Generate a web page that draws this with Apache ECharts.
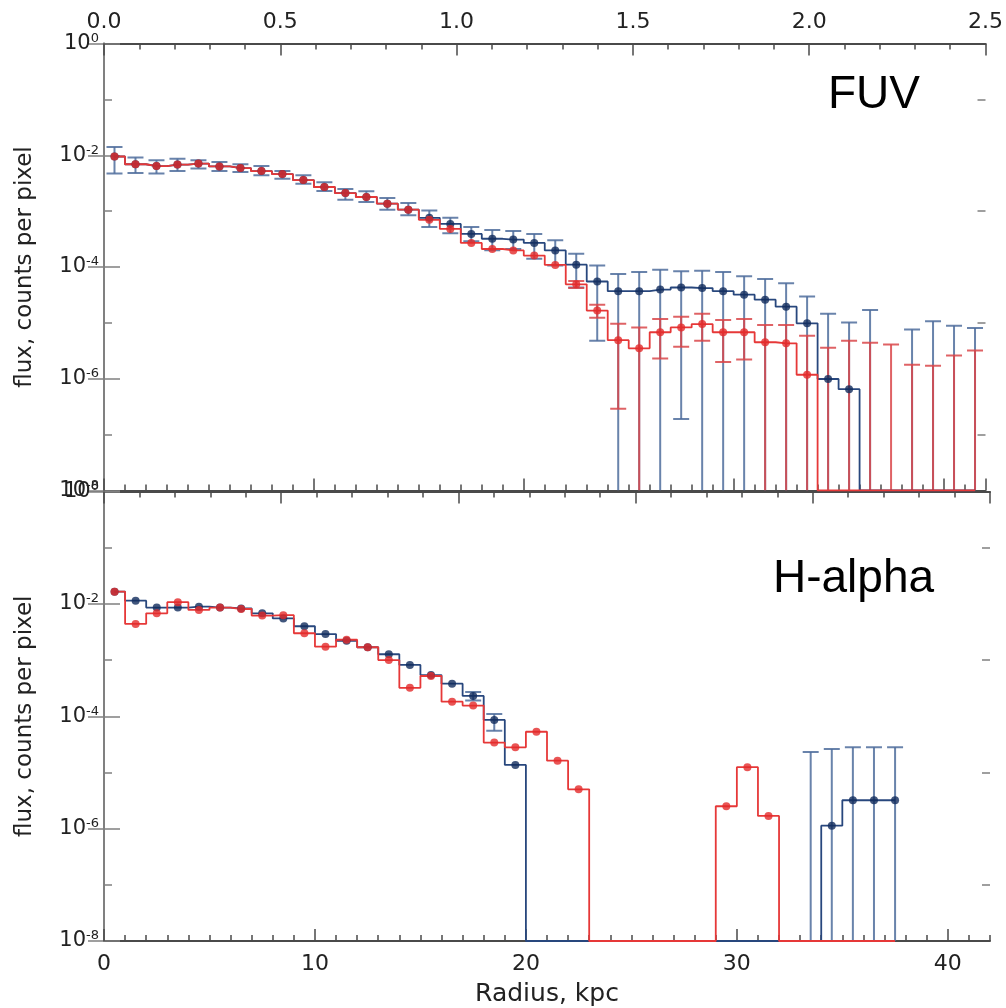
<!DOCTYPE html>
<html>
<head>
<meta charset="utf-8">
<script src="https://cdn.jsdelivr.net/npm/echarts@6/dist/echarts.min.js"></script>
<style>html,body{margin:0;padding:0;background:#fff}#c{width:1006px;height:1008px}</style>
</head>
<body>
<div id="c"></div>
<script>
// ---------------- data ----------------
const radiusKpc = [0.5,1.5,2.5,3.5,4.5,5.5,6.5,7.5,8.5,9.5,10.5,11.5,12.5,13.5,14.5,15.5,16.5,17.5,18.5,19.5,
  20.5,21.5,22.5,23.5,24.5,25.5,26.5,27.5,28.5,29.5,30.5,31.5,32.5,33.5,34.5,35.5,36.5,37.5,38.5,39.5,40.5,41.5];

// FUV panel (0 = no detected flux)
const fuvBlue = [9.5e-3,6.9e-3,6.4e-3,6.8e-3,7.1e-3,6.3e-3,5.9e-3,5.2e-3,4.6e-3,3.6e-3,
  2.7e-3,2.1e-3,1.79e-3,1.36e-3,1.06e-3,7.6e-4,5.9e-4,3.9e-4,3.2e-4,3.1e-4,
  2.7e-4,1.98e-4,1.1e-4,5.5e-5,3.7e-5,3.7e-5,3.95e-5,4.3e-5,4.2e-5,3.7e-5,
  3.2e-5,2.6e-5,1.95e-5,9.8e-6,9.9e-7,6.5e-7,0,0,0,0,0,0];
const fuvRed = [9.5e-3,6.9e-3,6.4e-3,6.8e-3,7.1e-3,6.3e-3,5.9e-3,5.2e-3,4.6e-3,3.6e-3,
  2.7e-3,2.1e-3,1.79e-3,1.36e-3,1.06e-3,7.0e-4,4.8e-4,2.7e-4,2.1e-4,1.98e-4,
  1.6e-4,1.09e-4,4.9e-5,1.66e-5,4.9e-6,3.5e-6,6.8e-6,8.3e-6,9.5e-6,6.8e-6,
  6.8e-6,4.5e-6,4.3e-6,1.18e-6,0,0,0,0,0,0,0,0];
const fuvBlueHi = [1.41e-2,9.1e-3,8.1e-3,8.7e-3,8.1e-3,7.6e-3,6.9e-3,6.4e-3,5.2e-3,4.4e-3,
  3.3e-3,2.5e-3,2.26e-3,1.71e-3,1.4e-3,1.03e-3,7.6e-4,5.2e-4,4.6e-4,4.4e-4,
  3.9e-4,3.0e-4,1.72e-4,1.06e-4,7.5e-5,8.1e-5,8.9e-5,8.4e-5,8.6e-5,8.1e-5,
  6.8e-5,6.1e-5,5.1e-5,2.96e-5,1.45e-5,1.02e-5,1.7e-5,null,7.6e-6,1.07e-5,8.9e-6,8.1e-6];
const fuvBlueLo = [4.7e-3,4.8e-3,4.7e-3,5.2e-3,5.8e-3,5.2e-3,5.0e-3,4.4e-3,3.8e-3,3.1e-3,
  2.3e-3,1.6e-3,1.45e-3,1.06e-3,8.4e-4,5.2e-4,4.0e-4,2.9e-4,2.0e-4,2.1e-4,
  1.4e-4,1.06e-4,4.3e-5,4.8e-6,0,0,0,1.9e-7,0,0,
  0,0,0,0,0,0,0,null,0,0,0,0];
const fuvRedHi = [null,null,null,null,null,null,null,null,null,null,
  null,null,null,null,null,null,null,null,null,null,
  null,null,5.6e-5,2.1e-5,9.6e-6,8.3e-6,1.17e-5,1.29e-5,1.45e-5,1.13e-5,
  1.17e-5,9.2e-6,9.2e-6,5.9e-6,3.6e-6,4.8e-6,4.4e-6,4.1e-6,1.78e-6,1.7e-6,2.6e-6,3.2e-6];
const fuvRedLo = [null,null,null,null,null,null,null,null,null,null,
  null,null,null,null,null,null,null,null,null,null,
  null,null,4.2e-5,1.23e-5,2.9e-7,0,2.3e-6,3.75e-6,4.8e-6,2.0e-6,
  2.2e-6,0,0,0,0,0,0,0,0,0,0,0];

// H-alpha panel (bins 0.5 .. 37.5)
const haBlue = [1.65e-2,1.14e-2,8.6e-3,8.6e-3,8.9e-3,8.6e-3,8.3e-3,6.8e-3,5.5e-3,4.0e-3,
  2.9e-3,2.2e-3,1.69e-3,1.27e-3,8.2e-4,5.4e-4,3.8e-4,2.3e-4,8.6e-5,1.36e-5,
  0,0,0,0,0,0,0,0,0,0,0,0,0,0,
  1.13e-6,3.2e-6,3.2e-6,3.2e-6];
const haRed = [1.65e-2,4.4e-3,6.8e-3,1.07e-2,7.8e-3,8.6e-3,8.1e-3,6.2e-3,6.3e-3,3.0e-3,
  1.73e-3,2.3e-3,1.69e-3,1.0e-3,3.2e-4,5.2e-4,1.82e-4,1.55e-4,3.4e-5,2.8e-5,
  5.3e-5,1.62e-5,5.0e-6,0,0,0,0,0,0,
  2.5e-6,1.24e-5,1.68e-6,0,0,0,0,0,0];
const haBlueHi = [null,null,null,null,null,null,null,null,null,null,
  null,null,null,null,null,null,null,2.7e-4,1.1e-4,null,
  null,null,null,null,null,null,null,null,null,null,null,null,null,
  2.3e-5,2.6e-5,2.8e-5,2.8e-5,2.8e-5];
const haBlueLo = [null,null,null,null,null,null,null,null,null,null,
  null,null,null,null,null,null,null,1.9e-4,5.5e-5,null,
  null,null,null,null,null,null,null,null,null,null,null,null,null,
  0,0,0,0,0];

const yMajorTicks = [1e-8,1e-6,1e-4,1e-2,1];
const yMinorTicks = [1e-7,1e-5,1e-3,1e-1];
const panelLabels = ['FUV','H-alpha'];

// ---------------- chart ----------------
const Y_MIN = 1e-8, Y_MAX = 1, X_MAX = 42, TOP_MAX = 2.5;
const BLUE_LINE = '#28477d', BLUE_PT = '#122c5c', BLUE_ERR = '#4f6d9c';
const RED_LINE = '#e63838', RED_PT = '#e42a2a', RED_ERR = '#d9474a';
const FRAME = '#4a4a4a', FRAME_Y = '#808080';
const NUM_FONT = 'DejaVu Sans';
const TITLE_FONT = 'Liberation Sans';

const chart = echarts.init(document.getElementById('c'), null, {renderer: 'canvas'});

function supLabel(v) {
  const n = Math.round(Math.log10(v));
  return '{b|10}{s|' + n + '}';
}

function yAxes(g) {
  const base = {gridIndex: g, type: 'log', logBase: 10, min: Y_MIN, max: Y_MAX, splitLine: {show: false}};
  return [
    Object.assign({}, base, {
      position: 'left',
      name: 'flux, counts per pixel', nameLocation: 'middle', nameGap: 67,
      nameTextStyle: {fontFamily: 'DejaVu Sans', fontSize: 23, color: '#222'},
      axisLine: {show: true, lineStyle: {color: FRAME_Y, width: 2}},
      axisTick: {show: true, inside: true, length: 16, customValues: yMajorTicks, lineStyle: {color: FRAME_Y, width: 1.5}},
      axisLabel: {show: true, customValues: yMajorTicks, margin: 5, formatter: supLabel,
        rich: {b: {fontFamily: NUM_FONT, fontSize: 21, color: '#222'},
               s: {fontFamily: NUM_FONT, fontSize: 13, color: '#222', verticalAlign: 'top', padding: [0, 0, 10, 0]}}}
    }),
    Object.assign({}, base, {
      position: 'left', axisLine: {show: false},
      axisTick: {show: true, inside: true, length: 8, customValues: yMinorTicks, lineStyle: {color: FRAME_Y, width: 1.5}},
      axisLabel: {show: false}
    }),
    Object.assign({}, base, {
      position: 'right',
      axisLine: {show: true, lineStyle: {color: FRAME_Y, width: 2}},
      axisTick: {show: true, inside: true, length: 16, customValues: yMajorTicks, lineStyle: {color: FRAME_Y, width: 1.5}},
      axisLabel: {show: false}
    }),
    Object.assign({}, base, {
      position: 'right', axisLine: {show: false},
      axisTick: {show: true, inside: true, length: 8, customValues: yMinorTicks, lineStyle: {color: FRAME_Y, width: 1.5}},
      axisLabel: {show: false}
    })
  ];
}

function xAxes(g, labelled) {
  const kpcMajor = {
    gridIndex: g, type: 'value', min: 0, max: X_MAX, interval: 10, position: 'bottom',
    splitLine: {show: false},
    axisLine: {show: true, onZero: false, lineStyle: {color: FRAME, width: 2}},
    axisTick: {show: true, inside: true, length: 12, lineStyle: {color: FRAME, width: 1.5}},
    axisLabel: {show: labelled, showMaxLabel: false, margin: 12, fontFamily: NUM_FONT, fontSize: 22, color: '#222'}
  };
  if (labelled) {
    kpcMajor.name = 'Radius, kpc';
    kpcMajor.nameLocation = 'middle';
    kpcMajor.nameGap = 41;
    kpcMajor.nameTextStyle = {fontFamily: 'DejaVu Sans', fontSize: 25, color: '#222'};
  }
  const kpcMinor = {
    gridIndex: g, type: 'value', min: 0, max: X_MAX, interval: 1, position: 'bottom',
    splitLine: {show: false}, axisLine: {show: false, onZero: false},
    axisTick: {show: true, inside: true, length: 6, lineStyle: {color: FRAME, width: 1.5}},
    axisLabel: {show: false}
  };
  const topAx = {
    gridIndex: g, type: 'value', min: 0, max: TOP_MAX, interval: 0.5, position: 'top',
    splitLine: {show: false},
    axisLine: {show: true, onZero: false, lineStyle: {color: FRAME, width: 2}},
    axisTick: {show: true, inside: true, length: 12, lineStyle: {color: FRAME, width: 1.5}},
    minorTick: {show: true, splitNumber: 5, length: 6, lineStyle: {color: FRAME, width: 1.5}},
    axisLabel: {show: g === 0, margin: 10, fontFamily: NUM_FONT, fontSize: 22, color: '#222',
      formatter: function (v) { return v.toFixed(1); }}
  };
  return [kpcMajor, kpcMinor, topAx];
}

function stepSeries(xi, yi, vals, color, z) {
  return {type: 'line', xAxisIndex: xi, yAxisIndex: yi, step: 'middle', symbol: 'none', showSymbol: false,
    silent: true, z: z, clip: true,
    lineStyle: {color: color, width: 1.8},
    data: vals.map(function (v, i) { return [radiusKpc[i], v > 0 ? v : Y_MIN]; })};
}
function pointSeries(xi, yi, vals, color, z) {
  const d = [];
  vals.forEach(function (v, i) { if (v > 0) d.push([radiusKpc[i], v]); });
  return {type: 'scatter', xAxisIndex: xi, yAxisIndex: yi, symbol: 'circle', symbolSize: 8, silent: true, z: z,
    itemStyle: {color: color}, data: d};
}
function errSeries(xi, yi, hi, lo, color, z) {
  const d = [];
  hi.forEach(function (h, i) {
    if (h == null) return;
    const l = lo[i];
    d.push([radiusKpc[i], h, l > 0 ? l : Y_MIN, l > 0 ? 1 : 0]);
  });
  return {type: 'custom', xAxisIndex: xi, yAxisIndex: yi, silent: true, z: z, clip: true,
    encode: {x: 0, y: 1},
    renderItem: function (params, api) {
      const x = api.value(0);
      const pH = api.coord([x, api.value(1)]);
      const pL = api.coord([x, api.value(2)]);
      const hw = 8;
      const st = {stroke: color, lineWidth: 2, opacity: 0.85};
      const ch = [
        {type: 'line', shape: {x1: pH[0], y1: pH[1], x2: pL[0], y2: pL[1]}, style: st},
        {type: 'line', shape: {x1: pH[0] - hw, y1: pH[1], x2: pH[0] + hw, y2: pH[1]}, style: st}
      ];
      if (api.value(3) === 1) {
        ch.push({type: 'line', shape: {x1: pL[0] - hw, y1: pL[1], x2: pL[0] + hw, y2: pL[1]}, style: st});
      }
      return {type: 'group', children: ch};
    },
    data: d};
}

const xs = xAxes(0, false).concat(xAxes(1, true));   // 0..2 top grid, 3..5 bottom grid
const ys = yAxes(0).concat(yAxes(1));                // 0..3 top grid, 4..7 bottom grid

const option = {
  animation: false,
  backgroundColor: '#fff',
  textStyle: {fontFamily: NUM_FONT},
  grid: [
    {left: 104, right: 16, top: 43.5, height: 447, containLabel: false},
    {left: 104, right: 16, top: 491.5, height: 449.5, containLabel: false}
  ],
  xAxis: xs,
  yAxis: ys,
  series: [
    errSeries(0, 0, fuvBlueHi, fuvBlueLo, BLUE_ERR, 2),
    errSeries(0, 0, fuvRedHi, fuvRedLo, RED_ERR, 3),
    stepSeries(0, 0, fuvBlue, BLUE_LINE, 4),
    stepSeries(0, 0, fuvRed, RED_LINE, 5),
    pointSeries(0, 0, fuvBlue, BLUE_PT, 6),
    pointSeries(0, 0, fuvRed, RED_PT, 7),

    errSeries(3, 4, haBlueHi, haBlueLo, BLUE_ERR, 2),
    stepSeries(3, 4, haBlue, BLUE_LINE, 4),
    stepSeries(3, 4, haRed, RED_LINE, 5),
    pointSeries(3, 4, haBlue, BLUE_PT, 6),
    pointSeries(3, 4, haRed, RED_PT, 7)
  ],
  graphic: [
    {type: 'text', x: 828, y: 95, z: 10,
     style: {text: panelLabels[0], fontFamily: TITLE_FONT, fontSize: 46, fill: '#000', align: 'left', verticalAlign: 'middle'}},
    {type: 'text', x: 773, y: 579, z: 10,
     style: {text: panelLabels[1], fontFamily: TITLE_FONT, fontSize: 46, fill: '#000', align: 'left', verticalAlign: 'middle'}}
  ]
};
chart.setOption(option);
</script>
</body>
</html>
